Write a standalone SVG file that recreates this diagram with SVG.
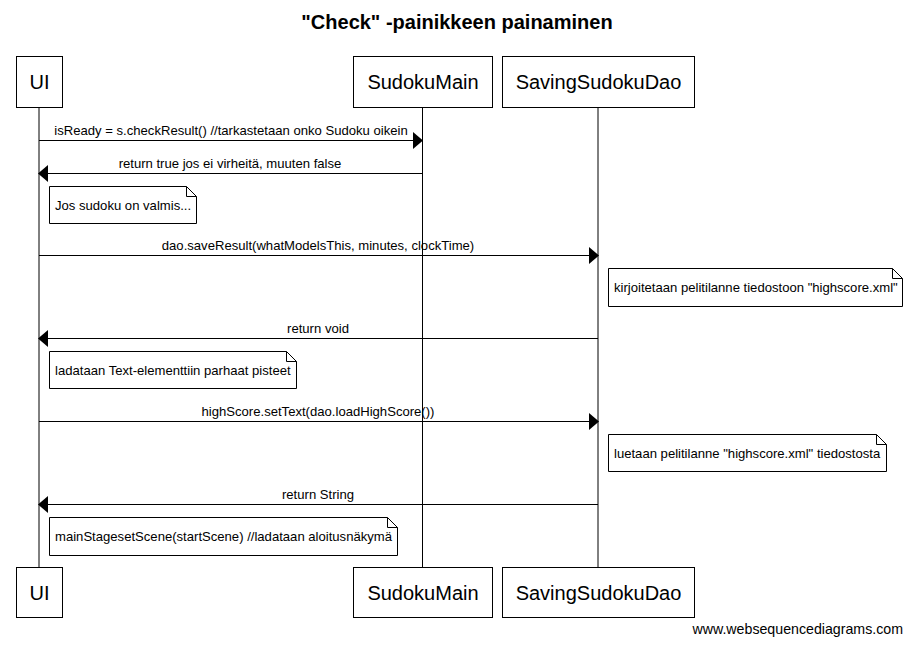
<svg xmlns="http://www.w3.org/2000/svg" width="912" height="645" viewBox="0 0 912 645">
<style>
text{font-family:"Liberation Sans",Arial,sans-serif;fill:#000}
.title{font-size:20px;font-weight:bold;text-anchor:middle}
.part{font-size:20px;text-anchor:middle}
.msg{font-size:13.1px;text-anchor:middle}
.note{font-size:13.1px}
.box{fill:#fff;stroke:#000;stroke-width:1}
.life{stroke:#000;stroke-width:1}
.arrow{stroke:#000;stroke-width:1;fill:none}
.head{fill:#000}
.wm{font-size:14.2px;text-anchor:end}
</style>
<rect width="912" height="645" fill="#fff"/>
<text class="title" x="457" y="29">"Check" -painikkeen painaminen</text>
<g id="lifelines">
<line class="life" x1="39" y1="107" x2="39" y2="567"/>
<line class="life" x1="422.5" y1="107" x2="422.5" y2="567"/>
<line class="life" x1="598" y1="107" x2="598" y2="567"/>
</g>
<g id="UI">
<rect class="box" x="16.5" y="56.5" width="46" height="51"/>
<text class="part" x="39.5" y="89">UI</text>
<rect class="box" x="16.5" y="567.5" width="46" height="50"/>
<text class="part" x="39.5" y="600">UI</text>
</g>
<g id="SudokuMain">
<rect class="box" x="353.5" y="56.5" width="139" height="51"/>
<text class="part" x="423" y="89">SudokuMain</text>
<rect class="box" x="353.5" y="567.5" width="139" height="50"/>
<text class="part" x="423" y="600">SudokuMain</text>
</g>
<g id="SavingSudokuDao">
<rect class="box" x="502.5" y="56.5" width="192" height="51"/>
<text class="part" x="598.5" y="89">SavingSudokuDao</text>
<rect class="box" x="502.5" y="567.5" width="192" height="50"/>
<text class="part" x="598.5" y="600">SavingSudokuDao</text>
</g>
<g id="connectors">
<line class="arrow" x1="39" y1="140.5" x2="413" y2="140.5"/>
<polygon class="head" points="413,132 423,140.5 413,149"/>
<text class="msg" x="231" y="135">isReady = s.checkResult() //tarkastetaan onko Sudoku oikein</text>
<line class="arrow" x1="422" y1="173.5" x2="48" y2="173.5"/>
<polygon class="head" points="48,165 38,173.5 48,182"/>
<text class="msg" x="230" y="168">return true jos ei virheitä, muuten false</text>
<line class="arrow" x1="39" y1="255.5" x2="589" y2="255.5"/>
<polygon class="head" points="589,247 599,255.5 589,264"/>
<text class="msg" x="318" y="250">dao.saveResult(whatModelsThis, minutes, clockTime)</text>
<line class="arrow" x1="598" y1="338.5" x2="48" y2="338.5"/>
<polygon class="head" points="48,330 38,338.5 48,347"/>
<text class="msg" x="318" y="333">return void</text>
<line class="arrow" x1="39" y1="421.5" x2="589" y2="421.5"/>
<polygon class="head" points="589,413 599,421.5 589,430"/>
<text class="msg" x="318" y="416">highScore.setText(dao.loadHighScore())</text>
<line class="arrow" x1="598" y1="504.5" x2="48" y2="504.5"/>
<polygon class="head" points="48,496 38,504.5 48,513"/>
<text class="msg" x="318" y="499">return String</text>
</g>
<g id="note1">
<path class="box" d="M49.5,186.5 H186.5 L196.5,196.5 V223.5 H49.5 Z M186.5,186.5 V196.5 H196.5"/>
<text class="note" x="55" y="210">Jos sudoku on valmis...</text>
</g>
<g id="note2">
<path class="box" d="M608.5,268.5 H892.5 L902.5,278.5 V306.5 H608.5 Z M892.5,268.5 V278.5 H902.5"/>
<text class="note" x="614" y="292">kirjoitetaan pelitilanne tiedostoon "highscore.xml"</text>
</g>
<g id="note3">
<path class="box" d="M49.5,351.5 H286.5 L296.5,361.5 V388.5 H49.5 Z M286.5,351.5 V361.5 H296.5"/>
<text class="note" x="55" y="375">ladataan Text-elementtiin parhaat pisteet</text>
</g>
<g id="note4">
<path class="box" d="M608.5,434.5 H876.5 L886.5,444.5 V471.5 H608.5 Z M876.5,434.5 V444.5 H886.5"/>
<text class="note" x="614" y="458">luetaan pelitilanne "highscore.xml" tiedostosta</text>
</g>
<g id="note5">
<path class="box" d="M49.5,517.5 H387.5 L397.5,527.5 V555.5 H49.5 Z M387.5,517.5 V527.5 H397.5"/>
<text class="note" x="55" y="541">mainStagesetScene(startScene) //ladataan aloitusnäkymä</text>
</g>
<text class="wm" x="903" y="634">www.websequencediagrams.com</text>
</svg>
